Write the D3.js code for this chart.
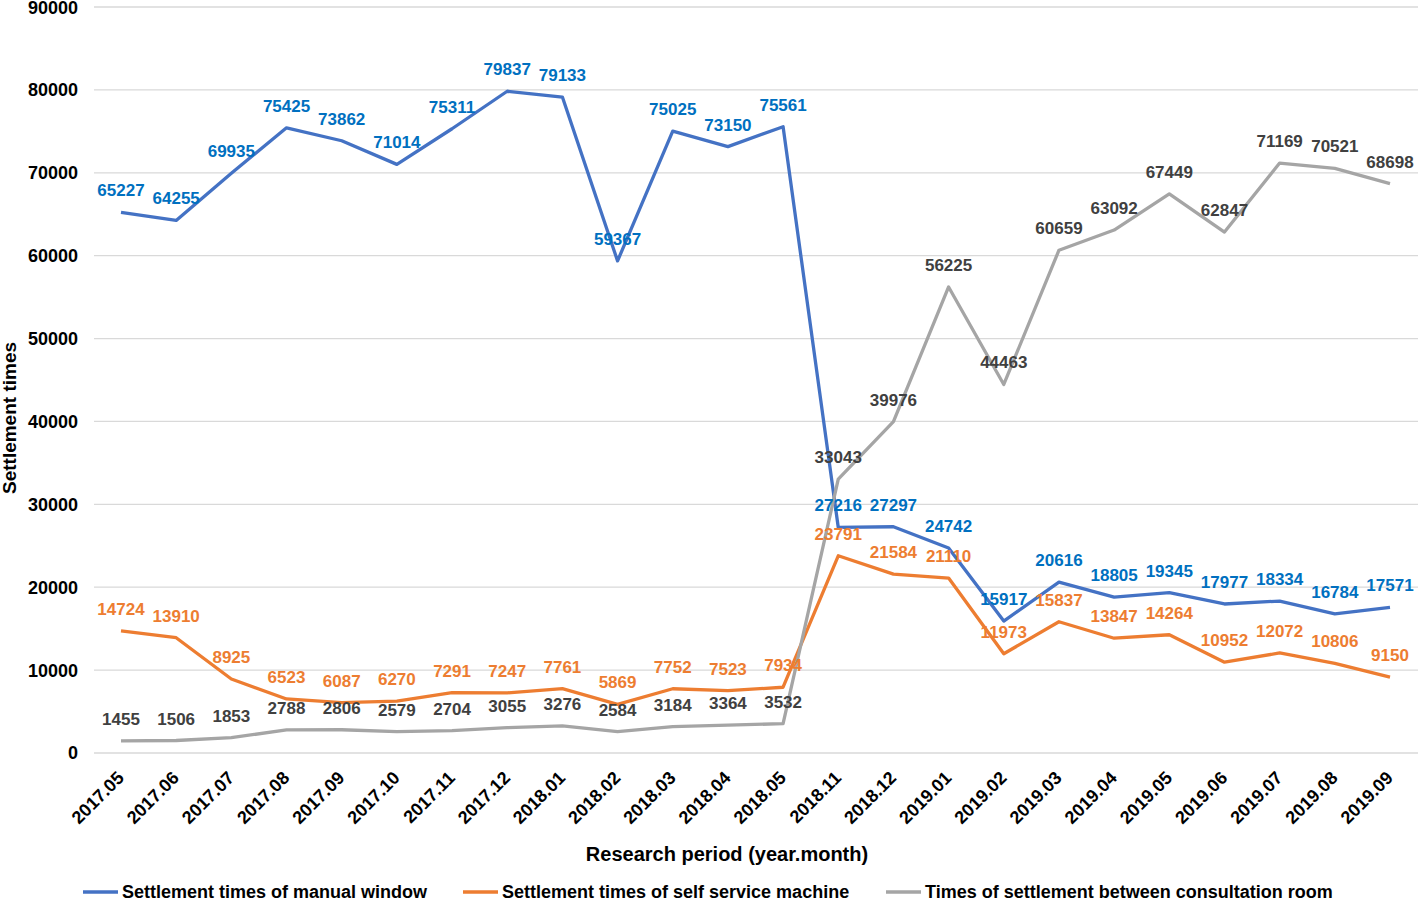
<!DOCTYPE html>
<html>
<head>
<meta charset="utf-8">
<script src="https://cdn.jsdelivr.net/npm/d3@7"></script>
<style>
  html, body { margin: 0; padding: 0; background: #fff; }
  svg { display: block; font-family: "Liberation Sans", Arial, sans-serif; font-weight: bold; }
</style>
</head>
<body>
<svg id="chart"></svg>
<script>
// Settlement times by month — three series
const months = ["2017.05", "2017.06", "2017.07", "2017.08", "2017.09", "2017.10", "2017.11", "2017.12",
  "2018.01", "2018.02", "2018.03", "2018.04", "2018.05", "2018.11", "2018.12", "2019.01", "2019.02",
  "2019.03", "2019.04", "2019.05", "2019.06", "2019.07", "2019.08", "2019.09"];

const manualWindow = [65227, 64255, 69935, 75425, 73862, 71014, 75311, 79837, 79133, 59367, 75025, 73150,
  75561, 27216, 27297, 24742, 15917, 20616, 18805, 19345, 17977, 18334, 16784, 17571];

const selfService = [14724, 13910, 8925, 6523, 6087, 6270, 7291, 7247, 7761, 5869, 7752, 7523,
  7934, 23791, 21584, 21110, 11973, 15837, 13847, 14264, 10952, 12072, 10806, 9150];

const consultRoom = [1455, 1506, 1853, 2788, 2806, 2579, 2704, 3055, 3276, 2584, 3184, 3364,
  3532, 33043, 39976, 56225, 44463, 60659, 63092, 67449, 62847, 71169, 70521, 68698];

const yTicks = [0, 10000, 20000, 30000, 40000, 50000, 60000, 70000, 80000, 90000];

const series = [
  { name: "Settlement times of manual window", values: manualWindow, line: "#4472C4", label: "#0070C0" },
  { name: "Settlement times of self service machine", values: selfService, line: "#ED7D31", label: "#ED7D31" },
  { name: "Times of settlement between consultation room", values: consultRoom, line: "#A5A5A5", label: "#404040" }
];

const W = 1418, H = 901;
const svg = d3.select("#chart").attr("width", W).attr("height", H);

const x = d3.scalePoint().domain(months).range([121, 1390]);
const y = d3.scaleLinear().domain([0, 90000]).range([753, 7]);

// Gridlines
svg.append("g")
  .selectAll("line")
  .data(yTicks)
  .join("line")
    .attr("x1", 94).attr("x2", 1418)
    .attr("y1", d => y(d)).attr("y2", d => y(d))
    .attr("stroke", "#D9D9D9")
    .attr("stroke-width", 1.3);

// Y tick labels
svg.append("g")
  .selectAll("text")
  .data(yTicks)
  .join("text")
    .attr("x", 78)
    .attr("y", d => Math.max(y(d), 8))
    .attr("dy", "0.36em")
    .attr("text-anchor", "end")
    .attr("font-size", 18)
    .attr("fill", "#000")
    .text(d => d);

// X tick labels, rotated
svg.append("g")
  .selectAll("text")
  .data(months)
  .join("text")
    .attr("transform", d => `translate(${x(d) + 4},${779}) rotate(-45)`)
    .attr("text-anchor", "end")
    .attr("font-size", 18)
    .attr("fill", "#000")
    .text(d => d);

// Lines
const line = d3.line().x((d, i) => x(months[i])).y(d => y(d));
svg.append("g")
  .selectAll("path")
  .data(series)
  .join("path")
    .attr("d", d => line(d.values))
    .attr("fill", "none")
    .attr("stroke", d => d.line)
    .attr("stroke-width", 3.3)
    .attr("stroke-linejoin", "round");

// Data labels above points
series.forEach(s => {
  svg.append("g")
    .selectAll("text")
    .data(s.values)
    .join("text")
      .attr("x", (d, i) => x(months[i]))
      .attr("y", d => y(d) - 16)
      .attr("text-anchor", "middle")
      .attr("font-size", 17)
      .attr("fill", s.label)
      .text(d => d);
});

// Axis titles
svg.append("text")
  .attr("transform", "translate(16,418) rotate(-90)")
  .attr("text-anchor", "middle")
  .attr("font-size", 19)
  .text("Settlement times");

svg.append("text")
  .attr("x", 727).attr("y", 861)
  .attr("text-anchor", "middle")
  .attr("font-size", 20)
  .text("Research period (year.month)");

// Legend
const legendX = [83, 463, 886];
const lg = svg.append("g")
  .selectAll("g")
  .data(series)
  .join("g")
    .attr("transform", (d, i) => `translate(${legendX[i]},892)`);
lg.append("line")
  .attr("x1", 0).attr("x2", 35)
  .attr("stroke", d => d.line)
  .attr("stroke-width", 3.3);
lg.append("text")
  .attr("x", 39)
  .attr("dy", "0.36em")
  .attr("font-size", 18)
  .text(d => d.name);
</script>
</body>
</html>
